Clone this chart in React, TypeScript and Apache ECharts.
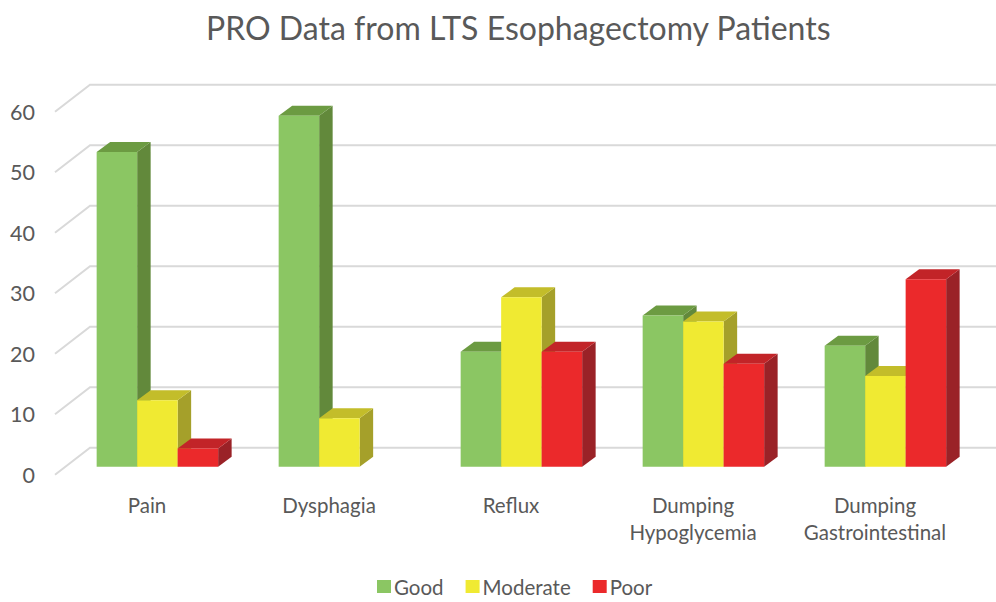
import React, { useEffect, useRef } from "react";
import * as echarts from "echarts";

const categories = ["Pain", "Dysphagia", "Reflux", "Dumping\nHypoglycemia", "Dumping\nGastrointestinal"];
const good = [52, 58, 19, 25, 20];
const moderate = [11, 8, 28, 24, 15];
const poor = [3, 0, 19, 17, 31];
const yTicks = [0, 10, 20, 30, 40, 50, 60];

const seriesNames = ["Good", "Moderate", "Poor"];
const seriesData = [good, moderate, poor];
const faceColors = [
  { front: "#8BC663", top: "#6C9B42", side: "#62893B" },
  { front: "#F0EA32", top: "#C3BD2A", side: "#A5A02A" },
  { front: "#EB292B", top: "#C22428", side: "#9A2227" },
];

// oblique projection offsets
const FRONT_DX = 10.4;
const FRONT_DY = -8;
const DEPTH_DX = 13.5;
const DEPTH_DY = -10;
const WALL_DX = 35;
const WALL_DY = -27;
const FONT = "Lato, 'Open Sans', sans-serif";

export default function App() {
  const ref = useRef<HTMLDivElement>(null);
  useEffect(() => {
    if (!ref.current) return;
    const chart = echarts.init(ref.current, undefined, { renderer: "svg" });

    const gridSeries: any = {
      type: "custom",
      name: "grid",
      silent: true,
      clip: false,
      z: 1,
      encode: { x: 0, y: 1 },
      data: yTicks.map((v) => [0, v]),
      renderItem: (params: any, api: any) => {
        const v = api.value(1);
        const y = api.coord([0, v])[1];
        const x0 = params.coordSys.x - 1;
        return {
          type: "polyline",
          shape: {
            points: [
              [x0, y],
              [x0 + WALL_DX, y + WALL_DY],
              [996, y + WALL_DY],
            ],
          },
          style: { stroke: "#D9D9D9", lineWidth: 2, fill: "none" },
        };
      },
    };

    const barSeries = seriesData.map((arr, si) => ({
      type: "custom",
      name: seriesNames[si],
      clip: false,
      z: 2 + si,
      itemStyle: { color: faceColors[si].front },
      encode: { x: 0, y: 1 },
      data: arr.map((v, i) => [i, v]),
      renderItem: (params: any, api: any) => {
        const cat = api.value(0);
        const val = api.value(1);
        if (!val) return { type: "group", children: [] };
        const base = api.coord([cat, 0]);
        const top = api.coord([cat, val]);
        const bandW = api.size([1, 0])[0];
        const bw = bandW * 0.2225;
        const cx = base[0] + FRONT_DX + (si - 1) * bw;
        const x0 = cx - bw / 2;
        const x1 = cx + bw / 2;
        const yb = base[1] + FRONT_DY;
        const yt = top[1] + FRONT_DY;
        const c = faceColors[si];
        return {
          type: "group",
          children: [
            {
              type: "polygon",
              shape: { points: [[x1, yt], [x1 + DEPTH_DX, yt + DEPTH_DY], [x1 + DEPTH_DX, yb + DEPTH_DY], [x1, yb]] },
              style: { fill: c.side },
            },
            {
              type: "polygon",
              shape: { points: [[x0, yt], [x1, yt], [x1 + DEPTH_DX, yt + DEPTH_DY], [x0 + DEPTH_DX, yt + DEPTH_DY]] },
              style: { fill: c.top },
            },
            {
              type: "rect",
              shape: { x: x0, y: yt, width: bw, height: yb - yt },
              style: { fill: c.front },
            },
          ],
        };
      },
    }));

    chart.setOption({
      animation: false,
      backgroundColor: "#FFFFFF",
      title: {
        text: "PRO Data from LTS Esophagectomy Patients",
        left: 201,
        top: 6,
        textStyle: { fontFamily: FONT, fontSize: 32, fontWeight: "normal", color: "#595959" },
      },
      legend: {
        data: seriesNames,
        bottom: 0,
        left: 372,
        icon: "rect",
        itemWidth: 14,
        itemHeight: 13,
        itemGap: 22,
        textStyle: { fontFamily: FONT, fontSize: 20.5, color: "#595959", padding: [0, 0, 0, -2] },
      },
      grid: { left: 56, right: 30, top: 111.7, bottom: 127.3, containLabel: false },
      xAxis: {
        type: "category",
        data: categories,
        axisLine: { show: false },
        axisTick: { show: false },
        axisLabel: { interval: 0, fontFamily: FONT, fontSize: 20.5, color: "#595959", lineHeight: 27, margin: 17 },
      },
      yAxis: {
        type: "value",
        min: 0,
        max: 60,
        interval: 10,
        axisLine: { show: false },
        axisTick: { show: false },
        splitLine: { show: false },
        axisLabel: { fontFamily: FONT, fontSize: 21.5, color: "#595959", margin: 21 },
      },
      series: [gridSeries, ...barSeries],
    });
    return () => chart.dispose();
  }, []);
  return <div ref={ref} style={{ position: "absolute", left: 0, top: 0, width: 996, height: 602 }} />;
}
